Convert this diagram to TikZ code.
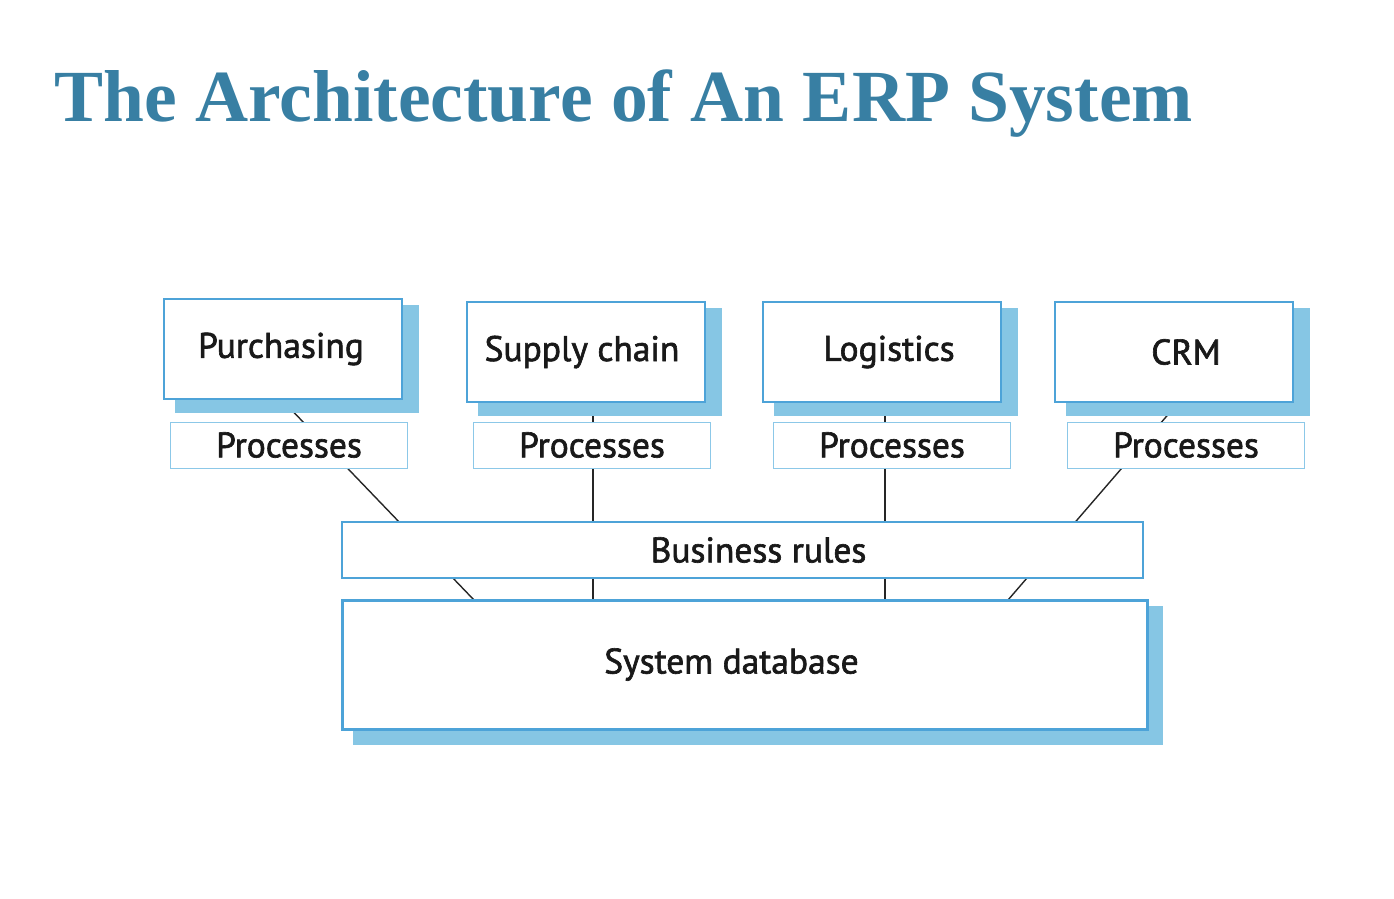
\documentclass[tikz,border=0pt]{standalone}
\usepackage{fontspec}
\setmainfont{Liberation Serif}
\newfontfamily\boxfont[FakeBold=1.8]{PT Sans}
\usetikzlibrary{calc}

\definecolor{titleblue}{HTML}{387FA3}
\definecolor{edgeblue}{HTML}{4DA3D8}
\definecolor{shadeblue}{HTML}{86C6E4}
\definecolor{thinblue}{HTML}{8CC8E8}

\pgfdeclarelayer{bg}
\pgfsetlayers{bg,main}

% text centred at an offset from the box centre
\newcommand{\nudge}[2]{\hbox to 0pt{\hss\kern#1\kern#1#2\hss}}

\tikzset{
  boxtext/.style={font=\boxfont\fontsize{35.5}{40}\selectfont,text=black!90,inner sep=0pt},
  module/.style={boxtext,draw=edgeblue,line width=2pt,fill=white,minimum width=238pt,minimum height=100pt},
  procbox/.style={boxtext,draw=thinblue,line width=1pt,fill=white,minimum width=237pt,minimum height=46pt},
  rulebox/.style={boxtext,draw=edgeblue,line width=2pt,fill=white,minimum width=801pt,minimum height=56pt},
  dbbox/.style={boxtext,draw=edgeblue,line width=3pt,fill=white,minimum width=805pt,minimum height=129pt},
  link/.style={line width=1.4pt,black!85},
}

\begin{document}
\begin{tikzpicture}[x=1pt,y=-1pt]
  \useasboundingbox (0,0) rectangle (1394,898);

  \node[anchor=base west,text=titleblue,font=\fontsize{73.5}{80}\selectfont\bfseries] (title) at (51,121) {The Architecture of An ERP System};

  % application modules
  \node[module] (pur) at (283,349) {\nudge{-2pt}{Purchasing}};
  \node[module] (sup) at (586,352) {\nudge{-4pt}{Supply chain}};
  \node[module] (log) at (882,352) {\nudge{7pt}{Logistics}};
  \node[module] (crm) at (1174,352) {\nudge{12pt}{CRM}};

  \node[procbox] (purp) at (289,445) {Processes};
  \node[procbox] (supp) at (592,445) {Processes};
  \node[procbox] (logp) at (892,445) {Processes};
  \node[procbox] (crmp) at (1186,445) {Processes};

  \node[rulebox] (rules) at (742.5,550) {\nudge{16pt}{Business rules}};
  \node[dbbox] (db) at (744.5,664.5) {\nudge{-13pt}{System database}};

  \coordinate (dbA) at (474,600);
  \coordinate (dbB) at (593,600);
  \coordinate (dbC) at (885,600);
  \coordinate (dbD) at (1008,600);

  \begin{pgfonlayer}{bg}
    \draw[link] ($(pur.south)+(-1,0)$) -- (dbA);
    \draw[link] (dbB |- sup.south) -- (dbB);
    \draw[link] (dbC |- log.south) -- (dbC);
    \draw[link] ($(crm.south)+(4,0)$) -- (dbD);

    \foreach \m in {pur,sup,log,crm}
      \fill[shadeblue] ($(\m.north west)+(12,7)$) rectangle ($(\m.south east)+(16,13)$);
    \fill[shadeblue] ($(db.north west)+(12,7)$) rectangle ($(db.south east)+(14,14)$);
  \end{pgfonlayer}
\end{tikzpicture}
\end{document}
